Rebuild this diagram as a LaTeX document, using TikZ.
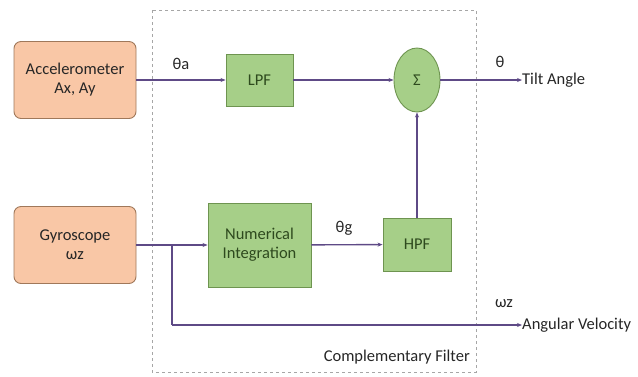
\documentclass[tikz,border=0pt]{standalone}
\usepackage{fontspec}
\setmainfont{Carlito}
\usetikzlibrary{arrows.meta,shapes.geometric}
\definecolor{peach}{HTML}{F9C7A6}
\definecolor{peachb}{HTML}{A0785A}
\definecolor{grn}{HTML}{A6CF88}
\definecolor{grnb}{HTML}{6E9450}
\definecolor{wire}{HTML}{5E4A86}
\definecolor{txt}{HTML}{262626}
\definecolor{gtxt}{HTML}{2E4A1E}
\begin{document}
\begin{tikzpicture}[x=1pt,y=-1pt,
  font=\fontsize{16.5}{19}\selectfont,
  sensor/.style={draw=peachb,fill=peach,rounded corners=7pt,line width=0.9pt,text=txt,align=center,minimum width=122pt,minimum height=77pt},
  blk/.style={draw=grnb,fill=grn,line width=0.9pt,text=gtxt,align=center},
  wire/.style={draw=wire,line width=1.4pt,-{Stealth[length=5pt,width=4pt]}},
  lbl/.style={text=txt,inner sep=0pt}]
\useasboundingbox (0,0) rectangle (638,376);
\draw[gray!70,dashed,line width=0.6pt] (152,10) rectangle (476,372);
\node[sensor] (acc) at (75,80) {Accelerometer\\Ax, Ay};
\node[sensor] (gyr) at (75,245) {Gyroscope\\ωz};
\node[blk,minimum width=67pt,minimum height=52pt] (lpf) at (259.5,80) {LPF};
\node[blk,ellipse,minimum width=46pt,minimum height=64pt,inner sep=0pt] (sum) at (417,80) {Σ};
\node[blk,minimum width=103pt,minimum height=84pt] (int) at (259.5,245) {Numerical\\Integration};
\node[blk,minimum width=68pt,minimum height=53pt] (hpf) at (417,244.5) {HPF};
\node[lbl,anchor=west] (tilt) at (522,80) {Tilt Angle};
\node[lbl,anchor=west] (ang) at (522,325) {Angular Velocity};
\coordinate (br) at (172,245);
\coordinate (bd) at (172,325);
\draw[wire] (acc) -- (lpf);
\draw[wire] (lpf) -- (sum);
\draw[wire] (sum) -- (tilt);
\draw[wire] (gyr) -- (int);
\draw[wire] (int) -- (hpf);
\draw[wire] (hpf) -- (sum);
\draw[wire,-] (br) -- (bd);
\draw[wire] (bd) -- (ang);
\node[lbl] (ta) at (181,64) {θa};
\node[lbl] (tg) at (344,228) {θg};
\node[lbl] (tt) at (500,62) {θ};
\node[lbl] (wz) at (504,304) {ωz};
\node[lbl,anchor=east] (cf) at (470,357) {Complementary Filter};
\end{tikzpicture}
\end{document}
